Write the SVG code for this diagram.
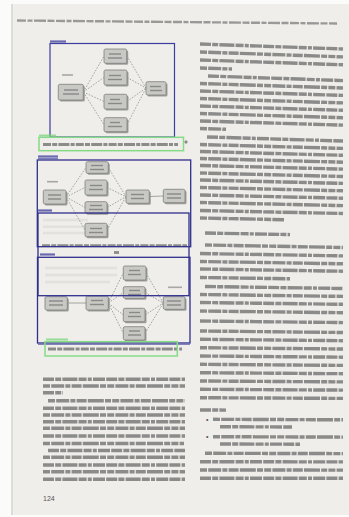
<svg xmlns="http://www.w3.org/2000/svg" width="349" height="517" viewBox="0 0 349 517">
<defs>
<style>
.page{fill:#efeeeb}
.tx{stroke:#4a4a4a;stroke-width:3.4;opacity:.6;stroke-dasharray:11 1.2 6 1.2 15 1.2 8 1.2 4 1.2 12 1.2}
.tx2{stroke:#4a4a4a;stroke-width:3.4;opacity:.6;stroke-dasharray:7 1.2 13 1.2 5 1.2 10 1.2 16 1.2 6 1.2}
.hd{stroke:#555;stroke-width:2.4;opacity:.55;stroke-dasharray:9 1.5 5 1.5 12 1.5 7 1.5}
.ghost{stroke:#888;stroke-width:2.5;opacity:.12}
.nd{fill:#c8c8c5;stroke:#7e7e7c;stroke-width:.8}
.sh{fill:#9d9d9a}
.nt{stroke:#7a7a78;stroke-width:1.4;opacity:.8}
.lb{stroke:#8a8a88;stroke-width:1.6;opacity:.7}
.dash{stroke:#8f8f8d;stroke-width:.8;stroke-dasharray:1.6 1.4;fill:none}
.solid{stroke:#8f8f8d;stroke-width:.8;fill:none}
.ov{fill:none;stroke:#3c3d9e;stroke-width:1.2}
.ov2{fill:none;stroke:#2f2f8c;stroke-width:1.3}
.cap{fill:none;stroke:#86dc86;stroke-width:1.5}
.olb{stroke:#3c3d9e;stroke-width:2.2;opacity:.75}
.clb{stroke:#7cd47c;stroke-width:2;opacity:.75}
.ct{stroke:#4a4a4a;stroke-width:2.8;opacity:.6;stroke-dasharray:8 1.2 5 1.2 11 1.2 4 1.2}
</style>
</defs>

<rect width="349" height="517" fill="#fbfbfa"/>
<rect class="page" x="11" y="4" width="338" height="511"/>
<rect x="11" y="4" width="2" height="511" fill="#dcdcd9"/>

<!-- header -->
<line class="hd" x1="17" y1="20.5" x2="337" y2="23.5"/>

<!-- right column text -->
<g id="right-column">
<line class="tx" x1="200" y1="44" x2="343" y2="49"/>
<line class="tx2" x1="200" y1="52" x2="343" y2="56.9"/>
<line class="tx" x1="200" y1="60" x2="343" y2="64.8"/>
<line class="tx2" x1="200" y1="68" x2="232" y2="69"/>
<line class="tx" x1="208" y1="76" x2="343" y2="80.6"/>
<line class="tx2" x1="200" y1="83.5" x2="343" y2="88"/>
<line class="tx" x1="200" y1="91" x2="343" y2="95.4"/>
<line class="tx2" x1="200" y1="98.5" x2="343" y2="102.9"/>
<line class="tx" x1="200" y1="106" x2="343" y2="110.3"/>
<line class="tx2" x1="200" y1="113.5" x2="343" y2="117.7"/>
<line class="tx" x1="200" y1="121" x2="343" y2="125.1"/>
<line class="tx2" x1="200" y1="128.5" x2="226" y2="129.3"/>
<line class="tx" x1="207" y1="137" x2="343" y2="141"/>
<line class="tx2" x1="200" y1="144.5" x2="343" y2="148.4"/>
<line class="tx" x1="200" y1="151.5" x2="343" y2="155.3"/>
<line class="tx2" x1="200" y1="158.5" x2="343" y2="162.2"/>
<line class="tx" x1="200" y1="165.5" x2="343" y2="169.1"/>
<line class="tx2" x1="200" y1="173" x2="343" y2="176.5"/>
<line class="tx" x1="200" y1="180" x2="343" y2="183.4"/>
<line class="tx2" x1="200" y1="187.5" x2="343" y2="190.8"/>
<line class="tx" x1="200" y1="195" x2="343" y2="198.2"/>
<line class="tx2" x1="200" y1="202.5" x2="343" y2="205.6"/>
<line class="tx" x1="200" y1="210.5" x2="343" y2="213.5"/>
<line class="tx2" x1="200" y1="218" x2="284" y2="219.7"/>
<line class="tx" x1="205" y1="233" x2="290" y2="234.6"/>
<line class="tx2" x1="205" y1="245" x2="343" y2="247.5"/>
<line class="tx" x1="200" y1="253.5" x2="343" y2="255.9"/>
<line class="tx2" x1="200" y1="261.5" x2="343" y2="263.8"/>
<line class="tx" x1="200" y1="269" x2="343" y2="271.2"/>
<line class="tx2" x1="200" y1="277.5" x2="290" y2="278.8"/>
<line class="tx" x1="205" y1="286.5" x2="343" y2="288.5"/>
<line class="tx2" x1="200" y1="294.5" x2="343" y2="296.4"/>
<line class="tx" x1="200" y1="302.5" x2="343" y2="304.3"/>
<line class="tx2" x1="200" y1="311" x2="343" y2="312.7"/>
<line class="tx" x1="200" y1="321" x2="343" y2="322.6"/>
<line class="tx2" x1="200" y1="331" x2="343" y2="332.5"/>
<line class="tx" x1="200" y1="339.3" x2="343" y2="340.7"/>
<line class="tx2" x1="200" y1="347.7" x2="343" y2="349"/>
<line class="tx" x1="200" y1="356" x2="343" y2="357.2"/>
<line class="tx2" x1="200" y1="364.3" x2="343" y2="365.4"/>
<line class="tx" x1="200" y1="372.7" x2="343" y2="373.7"/>
<line class="tx2" x1="200" y1="381" x2="343" y2="381.9"/>
<line class="tx" x1="200" y1="389.3" x2="343" y2="390.1"/>
<line class="tx2" x1="200" y1="397.7" x2="343" y2="398.4"/>
<line class="tx" x1="200" y1="410" x2="226" y2="410.1"/>
<text x="206" y="421.5" font-family="Liberation Sans, sans-serif" font-size="7" fill="#555">•</text>
<line class="tx2" x1="213" y1="419.3" x2="343" y2="419.8"/>
<line class="tx" x1="220" y1="426.7" x2="292" y2="427"/>
<text x="206" y="438.9" font-family="Liberation Sans, sans-serif" font-size="7" fill="#555">•</text>
<line class="tx2" x1="213" y1="436.7" x2="343" y2="437.1"/>
<line class="tx" x1="220" y1="444" x2="300" y2="444.2"/>
<line class="tx2" x1="205" y1="453.3" x2="343" y2="453.6"/>
<line class="tx" x1="200" y1="461.7" x2="343" y2="461.9"/>
<line class="tx2" x1="200" y1="470" x2="343" y2="470.1"/>
<line class="tx" x1="200" y1="478.3" x2="343" y2="478.3"/>
</g>

<!-- left column text -->
<g id="left-column">
<line class="tx" x1="43" y1="379.3" x2="185" y2="379.3"/>
<line class="tx2" x1="43" y1="386" x2="185" y2="386"/>
<line class="tx" x1="43" y1="392.7" x2="63" y2="392.7"/>
<line class="tx2" x1="48" y1="400.7" x2="185" y2="400.7"/>
<line class="tx" x1="43" y1="408.3" x2="185" y2="408.3"/>
<line class="tx2" x1="43" y1="415" x2="185" y2="415"/>
<line class="tx" x1="43" y1="421.7" x2="185" y2="421.7"/>
<line class="tx2" x1="43" y1="428.3" x2="185" y2="428.3"/>
<line class="tx" x1="43" y1="436" x2="185" y2="436"/>
<line class="tx2" x1="43" y1="443.5" x2="184" y2="443.5"/>
<line class="tx" x1="48" y1="450.5" x2="185" y2="450.5"/>
<line class="tx2" x1="43" y1="457.3" x2="185" y2="457.3"/>
<line class="tx" x1="43" y1="465" x2="185" y2="465"/>
<line class="tx2" x1="43" y1="471.7" x2="185" y2="471.7"/>
<line class="tx" x1="43" y1="479.3" x2="185" y2="479.3"/>
<text x="43" y="501" font-family="Liberation Sans, sans-serif" font-size="7" fill="#555555">124</text>
</g>

<!-- faint bleed-through -->
<g id="bleed">
<line class="ghost" x1="43" y1="220" x2="88" y2="220"/>
<line class="ghost" x1="43" y1="226.7" x2="88" y2="226.7"/>
<line class="ghost" x1="43" y1="233" x2="85" y2="233"/>
<line class="ghost" x1="45" y1="268" x2="117" y2="268"/>
<line class="ghost" x1="45" y1="275" x2="117" y2="275"/>
<line class="ghost" x1="45" y1="282" x2="110" y2="282"/>
</g>

<!-- captions -->
<line class="ct" x1="43" y1="144.5" x2="178" y2="144.5"/>
<line class="ct" x1="185" y1="143" x2="187" y2="141"/>
<line class="ct" x1="42" y1="245.7" x2="187" y2="245.7"/>
<line class="ct" x1="114" y1="252.5" x2="119" y2="252.5"/>
<line class="ct" x1="48" y1="349" x2="182" y2="349"/>

<!-- connectors -->
<g id="connectors">
<path class="dash" d="M83.3 92 L104 56 M83.3 92 L104 77.5 M83.3 92 L104 101.5 M83.3 92 L104 124.7"/>
<path class="dash" d="M127 56 L146 88 M127 77.5 L146 88 M127 101.5 L146 88 M127 124.7 L146 88"/>
<path class="dash" d="M66 197 L86 167.5 M66 197 L85 187.5 M66 197 L85 207.5 M66 197 L85 230"/>
<path class="dash" d="M108.3 167.5 L126 196.7 M107 187.5 L126 196.7 M107 207.5 L126 196.7 M107 230 L126 196.7"/>
<path class="solid" d="M149.3 196.5 L163.3 196"/>
<path class="solid" d="M67.3 303 L86 303"/>
<path class="dash" d="M108.3 303 L123.3 273 M108.3 303 L123.3 292.5 M108.3 303 L123.3 315 M108.3 303 L123.3 333.3"/>
<path class="dash" d="M146 273 L163.3 303 M145 292.5 L163.3 303 M145 315 L163.3 303 M145 333.3 L163.3 303"/>
</g>

<!-- diagram 1 -->
<line class="lb" x1="62" y1="75" x2="73" y2="75"/>
<g id="d1-left"><rect class="sh" x="59.8" y="85.8" width="25" height="15.7" rx="1.5"/><rect class="nd" x="58.3" y="84.3" width="25" height="15.7" rx="1.5"/><line class="nt" x1="64" y1="90" x2="78" y2="90"/><line class="nt" x1="63" y1="94" x2="79" y2="94"/></g>
<g id="d1-n1"><rect class="sh" x="105.5" y="50.5" width="22.7" height="14.3" rx="1.5"/><rect class="nd" x="104" y="49" width="22.7" height="14.3" rx="1.5"/><line class="nt" x1="109" y1="54" x2="121" y2="54"/><line class="nt" x1="108" y1="58" x2="122" y2="58"/></g>
<g id="d1-n2"><rect class="sh" x="105.5" y="71.5" width="23" height="15" rx="1.5"/><rect class="nd" x="104" y="70" width="23" height="15" rx="1.5"/><line class="nt" x1="109" y1="75.5" x2="121" y2="75.5"/><line class="nt" x1="108" y1="79.5" x2="122" y2="79.5"/></g>
<g id="d1-n3"><rect class="sh" x="105.5" y="95.8" width="23" height="14.7" rx="1.5"/><rect class="nd" x="104" y="94.3" width="23" height="14.7" rx="1.5"/><line class="nt" x1="110" y1="99.5" x2="120" y2="99.5"/><line class="nt" x1="108" y1="103.5" x2="122" y2="103.5"/></g>
<g id="d1-n4"><rect class="sh" x="105.5" y="119.2" width="23" height="14" rx="1.5"/><rect class="nd" x="104" y="117.7" width="23" height="14" rx="1.5"/><line class="nt" x1="110" y1="122.5" x2="120" y2="122.5"/><line class="nt" x1="108" y1="126.5" x2="122" y2="126.5"/></g>
<g id="d1-right"><rect class="sh" x="147.5" y="83.2" width="20" height="13.3" rx="1.5"/><rect class="nd" x="146" y="81.7" width="20" height="13.3" rx="1.5"/><line class="nt" x1="150" y1="86.5" x2="161" y2="86.5"/><line class="nt" x1="150" y1="90.5" x2="162" y2="90.5"/></g>

<!-- diagram 2 -->
<line class="lb" x1="47" y1="181.7" x2="58" y2="181.7"/>
<g id="d2-left"><rect class="sh" x="44.8" y="191.5" width="22.7" height="14" rx="1.5"/><rect class="nd" x="43.3" y="190" width="22.7" height="14" rx="1.5"/><line class="nt" x1="48" y1="195" x2="61" y2="195"/><line class="nt" x1="48" y1="199" x2="61" y2="199"/></g>
<g id="d2-n1"><rect class="sh" x="87.5" y="163.2" width="22.3" height="11.6" rx="1.5"/><rect class="nd" x="86" y="161.7" width="22.3" height="11.6" rx="1.5"/><line class="nt" x1="91" y1="165.5" x2="103" y2="165.5"/><line class="nt" x1="90" y1="169.5" x2="104" y2="169.5"/></g>
<g id="d2-n2"><rect class="sh" x="86.5" y="181.5" width="22" height="15" rx="1.5"/><rect class="nd" x="85" y="180" width="22" height="15" rx="1.5"/><line class="nt" x1="90" y1="185.5" x2="102" y2="185.5"/><line class="nt" x1="89" y1="189.5" x2="103" y2="189.5"/></g>
<g id="d2-n3"><rect class="sh" x="86.5" y="203.2" width="22" height="11.6" rx="1.5"/><rect class="nd" x="85" y="201.7" width="22" height="11.6" rx="1.5"/><line class="nt" x1="90" y1="205.5" x2="102" y2="205.5"/><line class="nt" x1="89" y1="209.5" x2="103" y2="209.5"/></g>
<g id="d2-n4"><rect class="sh" x="86.5" y="224.8" width="22" height="13.4" rx="1.5"/><rect class="nd" x="85" y="223.3" width="22" height="13.4" rx="1.5"/><line class="nt" x1="90" y1="228.5" x2="102" y2="228.5"/><line class="nt" x1="89" y1="232.5" x2="103" y2="232.5"/></g>
<g id="d2-mid"><rect class="sh" x="127.5" y="191.5" width="23.3" height="13.3" rx="1.5"/><rect class="nd" x="126" y="190" width="23.3" height="13.3" rx="1.5"/><line class="nt" x1="131" y1="194.5" x2="144" y2="194.5"/><line class="nt" x1="131" y1="198.5" x2="144" y2="198.5"/></g>
<g id="d2-right"><rect class="sh" x="164.8" y="190.8" width="21.7" height="13.4" rx="1.5"/><rect class="nd" x="163.3" y="189.3" width="21.7" height="13.4" rx="1.5"/><line class="nt" x1="167" y1="194" x2="181" y2="194"/><line class="nt" x1="167" y1="198" x2="181" y2="198"/></g>

<!-- diagram 3 -->
<line class="lb" x1="168" y1="287.3" x2="182" y2="287.3"/>
<g id="d3-left"><rect class="sh" x="46.5" y="298.2" width="22.3" height="13.3" rx="1.5"/><rect class="nd" x="45" y="296.7" width="22.3" height="13.3" rx="1.5"/><line class="nt" x1="49" y1="301" x2="63" y2="301"/><line class="nt" x1="49" y1="305" x2="63" y2="305"/></g>
<g id="d3-ml"><rect class="sh" x="87.5" y="297.5" width="22.3" height="14" rx="1.5"/><rect class="nd" x="86" y="296" width="22.3" height="14" rx="1.5"/><line class="nt" x1="91" y1="300.5" x2="103" y2="300.5"/><line class="nt" x1="90" y1="304.5" x2="104" y2="304.5"/></g>
<g id="d3-n1"><rect class="sh" x="124.8" y="267.5" width="22.7" height="14" rx="1.5"/><rect class="nd" x="123.3" y="266" width="22.7" height="14" rx="1.5"/><line class="nt" x1="129" y1="270.5" x2="140" y2="270.5"/><line class="nt" x1="128" y1="274.5" x2="141" y2="274.5"/></g>
<g id="d3-n2"><rect class="sh" x="124.8" y="288.2" width="21.7" height="11.6" rx="1.5"/><rect class="nd" x="123.3" y="286.7" width="21.7" height="11.6" rx="1.5"/><line class="nt" x1="129" y1="290.5" x2="140" y2="290.5"/><line class="nt" x1="128" y1="294.5" x2="141" y2="294.5"/></g>
<g id="d3-n3"><rect class="sh" x="124.8" y="309.8" width="21.7" height="13.4" rx="1.5"/><rect class="nd" x="123.3" y="308.3" width="21.7" height="13.4" rx="1.5"/><line class="nt" x1="129" y1="312.5" x2="140" y2="312.5"/><line class="nt" x1="128" y1="316.5" x2="141" y2="316.5"/></g>
<g id="d3-n4"><rect class="sh" x="124.8" y="328.2" width="21.7" height="13.3" rx="1.5"/><rect class="nd" x="123.3" y="326.7" width="21.7" height="13.3" rx="1.5"/><line class="nt" x1="129" y1="331" x2="140" y2="331"/><line class="nt" x1="128" y1="335" x2="141" y2="335"/></g>
<g id="d3-right"><rect class="sh" x="164.8" y="298.2" width="21.7" height="12.6" rx="1.5"/><rect class="nd" x="163.3" y="296.7" width="21.7" height="12.6" rx="1.5"/><line class="nt" x1="167" y1="301" x2="181" y2="301"/><line class="nt" x1="167" y1="305" x2="181" y2="305"/></g>

<!-- detection overlays -->
<g id="overlays">
<rect class="ov" x="50" y="43.5" width="124.5" height="93.5"/>
<line class="olb" x1="50" y1="41.5" x2="66" y2="41.5"/>
<rect class="cap" x="39" y="137.3" width="144.5" height="13.4"/>
<line class="clb" x1="39" y1="135.5" x2="56" y2="135.5"/>
<rect class="ov2" x="37.3" y="160" width="153.4" height="86.7"/>
<line class="olb" x1="38" y1="156.5" x2="58" y2="156.5"/>
<line stroke="#3c3d9e" stroke-width=".8" x1="38" y1="158.7" x2="58" y2="158.7"/>
<rect class="ov2" x="38" y="213" width="151" height="82.7"/>
<line class="olb" x1="38" y1="210.5" x2="52" y2="210.5"/>
<rect class="ov2" x="37.5" y="257.3" width="152.5" height="85.7"/>
<line class="olb" x1="40" y1="254.5" x2="55" y2="254.5"/>
<line stroke="#6a6ab0" stroke-width="1" x1="38" y1="344.3" x2="190" y2="344.3"/>
<rect class="cap" x="45" y="341.7" width="132.3" height="14.3"/>
<line class="clb" x1="46" y1="339.5" x2="68" y2="339.5"/>
</g>
</svg>
